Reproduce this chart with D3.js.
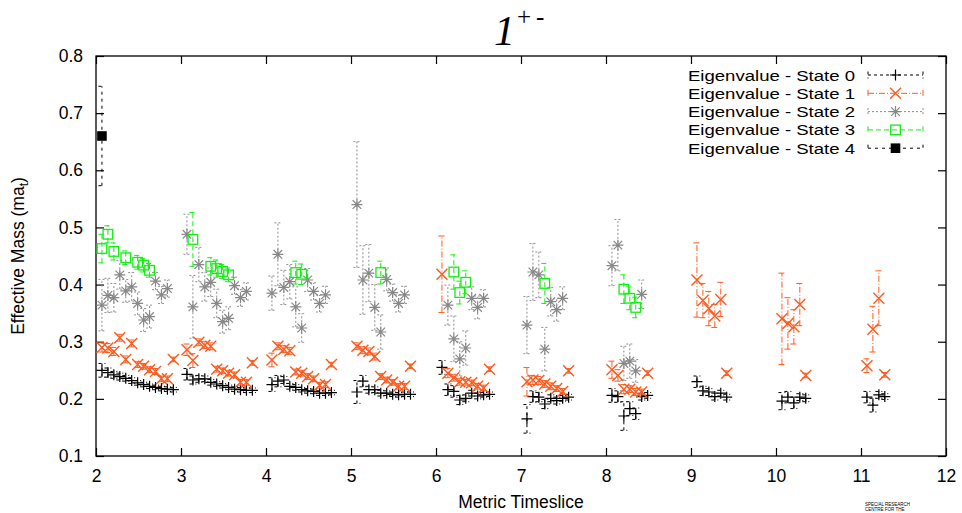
<!DOCTYPE html>
<html><head><meta charset="utf-8">
<script src="https://cdn.jsdelivr.net/npm/d3@7"></script>
<style>body{margin:0;background:#fff}</style>
</head><body>
<script>
// ---------- data (x = timeslice, y = effective mass, e = error) ----------
const xTicks = [2,3,4,5,6,7,8,9,10,11,12];
const yTicks = [0.1,0.2,0.3,0.4,0.5,0.6,0.7,0.8];
const seriesNames = ["Eigenvalue - State 0","Eigenvalue - State 1","Eigenvalue - State 2","Eigenvalue - State 3","Eigenvalue - State 4"];

const state0 = [
 [2.07,.250,.012],[2.14,.246,.008],[2.21,.242,.006],[2.28,.239,.006],[2.35,.236,.005],[2.42,.232,.005],[2.49,.228,.004],[2.56,.225,.004],[2.63,.222,.004],[2.70,.220,.004],[2.77,.218,.004],[2.84,.217,.004],[2.91,.216,.004],
 [3.07,.243,.010],[3.14,.233,.007],[3.21,.235,.006],[3.28,.235,.005],[3.35,.229,.005],[3.42,.226,.004],[3.49,.223,.004],[3.56,.220,.004],[3.63,.217,.004],[3.70,.216,.004],[3.77,.215,.004],[3.84,.215,.004],
 [4.07,.225,.012],[4.14,.231,.010],[4.21,.233,.006],[4.28,.222,.005],[4.35,.220,.005],[4.42,.216,.004],[4.49,.214,.004],[4.56,.213,.004],[4.63,.210,.004],[4.70,.210,.004],[4.77,.211,.004],
 [5.07,.212,.020],[5.14,.231,.010],[5.21,.216,.006],[5.28,.216,.005],[5.35,.210,.005],[5.42,.210,.004],[5.49,.208,.004],[5.56,.207,.004],[5.63,.208,.004],[5.70,.208,.004],
 [6.07,.255,.012],[6.14,.216,.010],[6.21,.213,.010],[6.28,.198,.008],[6.35,.201,.006],[6.42,.210,.005],[6.49,.205,.005],[6.56,.207,.004],[6.63,.208,.004],
 [7.07,.165,.025],[7.14,.204,.010],[7.21,.203,.008],[7.28,.191,.008],[7.35,.201,.006],[7.42,.197,.006],[7.49,.201,.005],[7.56,.203,.005],
 [8.07,.206,.012],[8.14,.204,.010],[8.21,.170,.025],[8.28,.183,.012],[8.35,.174,.010],[8.42,.204,.006],[8.49,.206,.005],
 [9.07,.230,.010],[9.14,.214,.008],[9.21,.212,.006],[9.28,.204,.006],[9.35,.210,.005],[9.42,.203,.005],
 [10.07,.196,.015],[10.14,.203,.010],[10.21,.193,.010],[10.28,.203,.006],[10.35,.201,.006],
 [11.07,.203,.010],[11.14,.189,.012],[11.21,.207,.006],[11.28,.204,.005]
];
const state1 = [
 [2.07,.290,.008],[2.14,.289,.008],[2.21,.283,.007],[2.28,.307,.006],[2.35,.269,.006],[2.42,.297,.006],[2.49,.260,.005],[2.56,.257,.005],[2.63,.251,.005],[2.70,.248,.005],[2.77,.235,.005],[2.84,.235,.005],[2.91,.269,.004],
 [3.07,.286,.010],[3.14,.267,.012],[3.21,.299,.006],[3.28,.294,.006],[3.35,.292,.006],[3.42,.252,.005],[3.49,.249,.005],[3.56,.245,.005],[3.63,.242,.005],[3.70,.229,.005],[3.77,.229,.005],[3.84,.263,.004],
 [4.07,.268,.012],[4.14,.292,.006],[4.21,.287,.006],[4.28,.284,.006],[4.35,.247,.005],[4.42,.245,.005],[4.49,.239,.005],[4.56,.235,.005],[4.63,.224,.005],[4.70,.225,.005],[4.77,.260,.004],
 [5.07,.292,.006],[5.14,.285,.006],[5.21,.283,.006],[5.28,.274,.006],[5.35,.239,.005],[5.42,.233,.005],[5.49,.229,.005],[5.56,.222,.005],[5.63,.222,.005],[5.70,.257,.004],
 [6.07,.418,.067],[6.14,.245,.008],[6.21,.237,.006],[6.28,.230,.006],[6.35,.229,.005],[6.42,.228,.005],[6.49,.222,.005],[6.56,.219,.005],[6.63,.252,.004],
 [7.07,.230,.025],[7.14,.233,.008],[7.21,.232,.007],[7.28,.226,.006],[7.35,.222,.006],[7.42,.218,.005],[7.49,.213,.005],[7.56,.249,.004],
 [8.07,.251,.015],[8.14,.241,.010],[8.21,.217,.008],[8.28,.217,.006],[8.35,.212,.006],[8.42,.212,.005],[8.49,.245,.004],
 [9.07,.408,.065],[9.14,.372,.030],[9.21,.358,.030],[9.28,.345,.020],[9.35,.374,.030],[9.42,.245,.004],
 [10.07,.340,.080],[10.14,.332,.045],[10.21,.326,.030],[10.28,.365,.037],[10.35,.241,.004],
 [11.07,.258,.012],[11.14,.322,.040],[11.21,.376,.048],[11.28,.242,.004]
];
const state2 = [
 [2.07,.364,.045],[2.14,.381,.030],[2.21,.377,.025],[2.28,.417,.025],[2.35,.389,.020],[2.42,.396,.025],[2.49,.367,.020],[2.56,.338,.020],[2.63,.344,.020],[2.70,.406,.015],[2.77,.382,.015],[2.84,.393,.015],
 [3.07,.488,.035],[3.14,.361,.055],[3.21,.435,.030],[3.28,.396,.025],[3.35,.404,.025],[3.42,.367,.025],[3.49,.335,.020],[3.56,.341,.020],[3.63,.398,.015],[3.70,.377,.015],[3.77,.388,.015],
 [4.07,.385,.030],[4.14,.453,.055],[4.21,.395,.030],[4.28,.405,.030],[4.35,.361,.035],[4.42,.324,.025],[4.49,.408,.020],[4.56,.388,.015],[4.63,.367,.015],[4.70,.382,.015],
 [5.07,.540,.110],[5.14,.408,.060],[5.21,.420,.050],[5.28,.360,.040],[5.35,.317,.030],[5.42,.409,.020],[5.49,.386,.015],[5.56,.367,.015],[5.63,.382,.015],
 [6.14,.364,.035],[6.21,.305,.040],[6.28,.270,.030],[6.35,.289,.030],[6.42,.376,.020],[6.49,.360,.020],[6.56,.376,.015],
 [7.07,.329,.050],[7.14,.422,.050],[7.21,.417,.040],[7.28,.287,.038],[7.35,.370,.025],[7.42,.356,.020],[7.49,.376,.020],
 [8.07,.433,.035],[8.14,.469,.045],[8.21,.262,.030],[8.28,.266,.030],[8.35,.249,.020],[8.42,.383,.025]
];
const state3 = [
 [2.07,.463,.025],[2.14,.488,.015],[2.21,.458,.015],[2.35,.447,.012],[2.49,.439,.012],[2.56,.434,.012],[2.63,.425,.012],
 [3.14,.479,.047],[3.35,.432,.015],[3.42,.428,.015],[3.49,.423,.012],[3.56,.417,.012],
 [4.35,.421,.020],[4.42,.418,.018],
 [5.35,.421,.020],
 [6.21,.422,.030],[6.28,.386,.020],[6.35,.404,.020],
 [7.28,.402,.035],
 [8.21,.392,.025],[8.28,.376,.020],[8.35,.360,.018]
];
const state4 = [
 [2.07,.660,.087]
];

// ---------- styles ----------
const styles = [
 {data: state0, color:"#000000", line:"#000000", dash:"3,3", sym:"plus"},
 {data: state1, color:"#ff5a1e", line:"#ff5a1e", dash:"6,2,1,2", sym:"cross"},
 {data: state2, color:"#888888", line:"#8f8f8f", dash:"2,2", sym:"star"},
 {data: state3, color:"#11ee11", line:"#11ee11", dash:"5,3", sym:"box"},
 {data: state4, color:"#000000", line:"#000000", dash:"3,4", sym:"fbox"}
];

const W = 962, H = 513;
const L = 96, R = 946, T = 56, B = 456;
const svg = d3.select("body").append("svg").attr("width", W).attr("height", H)
  .style("font-family", "'Liberation Sans', Arial, sans-serif");

const x = d3.scaleLinear().domain([2,12]).range([L,R]);
const y = d3.scaleLinear().domain([0.1,0.8]).range([B,T]);

// axes (inward ticks, mirrored)
const gx = svg.append("g").attr("transform",`translate(0,${B})`)
  .call(d3.axisBottom(x).tickValues(xTicks).tickSizeInner(-8).tickSizeOuter(0).tickPadding(14).tickFormat(d3.format("d")));
const gy = svg.append("g").attr("transform",`translate(${L},0)`)
  .call(d3.axisLeft(y).tickValues(yTicks).tickSizeInner(-8).tickSizeOuter(0).tickPadding(13).tickFormat(d3.format(".1f")));
const gt = svg.append("g").attr("transform",`translate(0,${T})`)
  .call(d3.axisTop(x).tickValues(xTicks).tickSizeInner(-8).tickSizeOuter(0).tickFormat(""));
const gr = svg.append("g").attr("transform",`translate(${R},0)`)
  .call(d3.axisRight(y).tickValues(yTicks).tickSizeInner(-8).tickSizeOuter(0).tickFormat(""));
[gx,gy,gt,gr].forEach(g=>{
  g.select(".domain").remove();
  g.selectAll(".tick line").attr("stroke","#000").attr("stroke-width",1.2);
  g.selectAll("text").attr("fill","#000").style("font-size","17.5px").style("font-family","'Liberation Sans', Arial, sans-serif");
});
svg.append("rect").attr("x",L).attr("y",T).attr("width",R-L).attr("height",B-T)
  .attr("fill","none").attr("stroke","#000").attr("stroke-width",1.3);

// markers
function drawSym(g, sym, color){
  const s = 5.5;
  if (sym==="plus") {
    g.append("path").attr("d",`M${-s},0H${s}M0,${-s}V${s}`).attr("stroke",color).attr("stroke-width",1.2).attr("fill","none");
  } else if (sym==="cross") {
    g.append("path").attr("d",`M${-s},${-s}L${s},${s}M${-s},${s}L${s},${-s}`).attr("stroke",color).attr("stroke-width",1.4).attr("fill","none");
  } else if (sym==="star") {
    const a=4.3;
    g.append("path").attr("d",`M${-s},0H${s}M0,${-s}V${s}M${-a},${-a}L${a},${a}M${-a},${a}L${a},${-a}`).attr("stroke",color).attr("stroke-width",1.2).attr("fill","none");
  } else if (sym==="box") {
    g.append("rect").attr("x",-4.8).attr("y",-4.8).attr("width",9.6).attr("height",9.6).attr("stroke",color).attr("stroke-width",1.3).attr("fill","none");
  } else if (sym==="fbox") {
    g.append("rect").attr("x",-4.8).attr("y",-4.8).attr("width",9.6).attr("height",9.6).attr("fill",color);
  }
}

const plot = svg.append("g");
const cap = 3.5;
styles.forEach(st=>{
  const g = plot.append("g");
  st.data.forEach(d=>{
    const px = x(d[0]), y1 = y(d[1]-d[2]), y2 = y(d[1]+d[2]);
    g.append("path")
      .attr("d",`M${px},${y1}V${y2}M${px-cap},${y1}H${px+cap}M${px-cap},${y2}H${px+cap}`)
      .attr("stroke",st.line).attr("stroke-width",1).attr("fill","none")
      .attr("stroke-dasharray",st.dash);
  });
  st.data.forEach(d=>{
    const m = g.append("g").attr("transform",`translate(${x(d[0])},${y(d[1])})`);
    drawSym(m, st.sym, st.color);
  });
});

// legend
const leg = svg.append("g");
seriesNames.forEach((name,i)=>{
  const ry = 75 + i*18.3;
  leg.append("text").attr("x",855).attr("y",ry).attr("dy","0.36em").attr("text-anchor","end")
    .style("font-size","15.5px").attr("textLength",167).attr("lengthAdjust","spacingAndGlyphs")
    .attr("fill","#000").text(name);
  const st = styles[i];
  leg.append("path").attr("d",`M868,${ry}H923M868,${ry-3.5}V${ry+3.5}M923,${ry-3.5}V${ry+3.5}`)
    .attr("stroke",st.line).attr("stroke-width",1).attr("fill","none").attr("stroke-dasharray",st.dash);
  const m = leg.append("g").attr("transform",`translate(895.5,${ry})`);
  drawSym(m, st.sym, st.color);
});

// title
const title = svg.append("text").attr("x",494).attr("y",45).attr("fill","#000")
  .style("font-family","'Liberation Serif', 'Times New Roman', serif");
title.append("tspan").style("font-style","italic").style("font-size","42px").text("1");
title.append("tspan").attr("dx",2).attr("dy",-20).style("font-size","25px").style("letter-spacing","5px").text("+-");

// axis titles
svg.append("text").attr("x",521).attr("y",508).attr("text-anchor","middle")
  .style("font-size","17.5px").attr("fill","#000").text("Metric Timeslice");
const yl = svg.append("text").attr("transform","translate(24,256) rotate(-90)").attr("text-anchor","middle")
  .style("font-size","17.5px").attr("fill","#000");
yl.append("tspan").text("Effective Mass (ma");
yl.append("tspan").attr("dy",4).style("font-size","12px").text("t");
yl.append("tspan").attr("dy",-4).text(")");

// tiny footer text
svg.append("text").attr("x",865).attr("y",506).style("font-size","4.5px").attr("fill","#000").text("SPECIAL RESEARCH");
svg.append("text").attr("x",865).attr("y",511).style("font-size","4.5px").attr("fill","#000").text("CENTRE FOR THE");
</script>
</body></html>
